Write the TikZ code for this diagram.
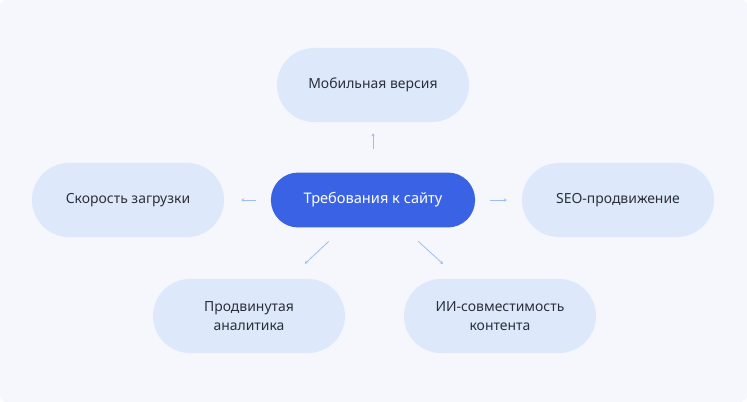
\documentclass[tikz,border=0pt]{standalone}
\usepackage{fontspec}
\setmainfont{Noto Sans}
\usetikzlibrary{arrows.meta,positioning}
\definecolor{bgcol}{HTML}{F5F7FC}
\definecolor{pillcol}{HTML}{DDE9FA}
\definecolor{maincol}{HTML}{3A62E4}
\definecolor{arrcol}{HTML}{9DBDF2}
\definecolor{textcol}{HTML}{2B2F3A}
\tikzset{
  pill/.style={fill=pillcol,rounded corners=37*0.02646cm,minimum width=5.08cm,minimum height=1.96cm,
    align=center,font=\fontsize{10.5}{14}\selectfont,text=textcol},
  mainpill/.style={fill=maincol,rounded corners=27*0.02646cm,minimum width=5.4cm,minimum height=1.45cm,
    font=\fontsize{11}{14}\selectfont\bfseries,text=white},
  link/.style={draw=arrcol,line width=0.6pt,-{Stealth[length=3.5pt,width=4pt,inset=2.5pt]}}
}
\begin{document}
\begin{tikzpicture}[x=0.02646cm,y=-0.02646cm]
  \fill[bgcol,rounded corners=4pt] (0,0) rectangle (747,402);
  \node[mainpill] (site) at (373,200) {Требования к сайту};
  \node[pill] (mobile) at (373,85) {Мобильная версия};
  \node[pill] (speed) at (128,200) {Скорость загрузки};
  \node[pill] (seo) at (618,200) {SEO-продвижение};
  \node[pill] (analytics) at (249,316) {Продвинутая\\аналитика};
  \node[pill] (ai) at (500,316) {ИИ-совместимость\\контента};
  \draw[link,shorten <=23*0.02646cm,shorten >=11*0.02646cm] (site) -- (mobile);
  \draw[link,shorten <=15*0.02646cm,shorten >=17*0.02646cm] (site) -- (speed);
  \draw[link,shorten <=15*0.02646cm,shorten >=15*0.02646cm] (site) -- (seo);
  \draw[link,shorten <=20*0.02646cm,shorten >=22*0.02646cm] (site) -- (analytics);
  \draw[link,shorten <=20*0.02646cm,shorten >=22*0.02646cm] (site) -- (ai);
\end{tikzpicture}
\end{document}
